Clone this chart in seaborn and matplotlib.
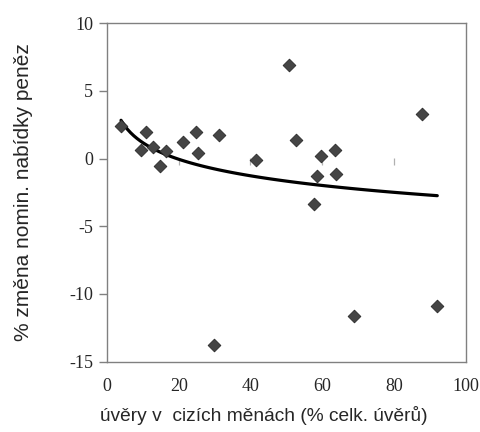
import numpy as np
import pandas as pd
import matplotlib
matplotlib.use("Agg")
import matplotlib.pyplot as plt
import seaborn as sns

# data
fx_loans = [3.9, 10.9, 9.4, 12.7, 16.4, 14.9, 21.3, 24.9, 25.3, 31.3, 29.9,
            41.6, 50.7, 52.6, 57.6, 58.5, 59.7, 63.6, 63.8, 68.9, 87.8, 92.1]
money_change = [2.44, 1.97, 0.64, 0.89, 0.57, -0.52, 1.26, 1.97, 0.39, 1.72, -13.8,
                -0.1, 6.9, 1.38, -3.32, -1.28, 0.2, 0.66, -1.13, -11.6, 3.3, -10.9]
x_ticks = [0, 20, 40, 60, 80, 100]
y_ticks = [-15, -10, -5, 0, 5, 10]
x_label = "úvěry v  cizích měnách (% celk. úvěrů)"
y_label = "% změna nomin. nabídky peněz"

df = pd.DataFrame({"x": fx_loans, "y": money_change})

sns.set_style("white")
plt.rcParams["font.family"] = ["Liberation Sans", "DejaVu Sans"]

fig = plt.figure(figsize=(4.8, 4.32), dpi=100)
ax = fig.add_axes([0.223, 0.163, 0.747, 0.783])

sns.scatterplot(data=df, x="x", y="y", marker="D", s=42, color="#454545",
                edgecolor="#2a2a2a", linewidth=0.6, ax=ax, zorder=3)
sns.regplot(data=df, x="x", y="y", logx=True, ci=None, scatter=False,
            line_kws={"color": "black", "lw": 2.3}, ax=ax)

ax.set_xlim(x_ticks[0], x_ticks[-1])
ax.set_ylim(y_ticks[0], y_ticks[-1])
ax.set_xticks(x_ticks)
ax.set_yticks(y_ticks)

# small tick marks on the zero line (Excel category axis crossing at 0)
ax.vlines(x_ticks[1:-1], -0.45, 0.05, color="#b0b0b0", lw=0.9, zorder=1)

for sp in ax.spines.values():
    sp.set_color("#808080")
    sp.set_linewidth(1.0)

ax.tick_params(axis="y", left=True, length=6, width=1, color="#808080", pad=4)
ax.tick_params(axis="x", bottom=False, length=0, pad=12)
ax.set_yticklabels([str(v) for v in y_ticks])
for lab in ax.get_xticklabels() + ax.get_yticklabels():
    lab.set_fontfamily(["Liberation Serif", "DejaVu Serif"])
    lab.set_fontsize(13)

ax.set_xlabel(x_label, fontsize=13.8)
ax.xaxis.set_label_coords(0.436, -0.131)
ax.set_ylabel(y_label, fontsize=15, labelpad=26)

fig.savefig("out.png", dpi=100)
